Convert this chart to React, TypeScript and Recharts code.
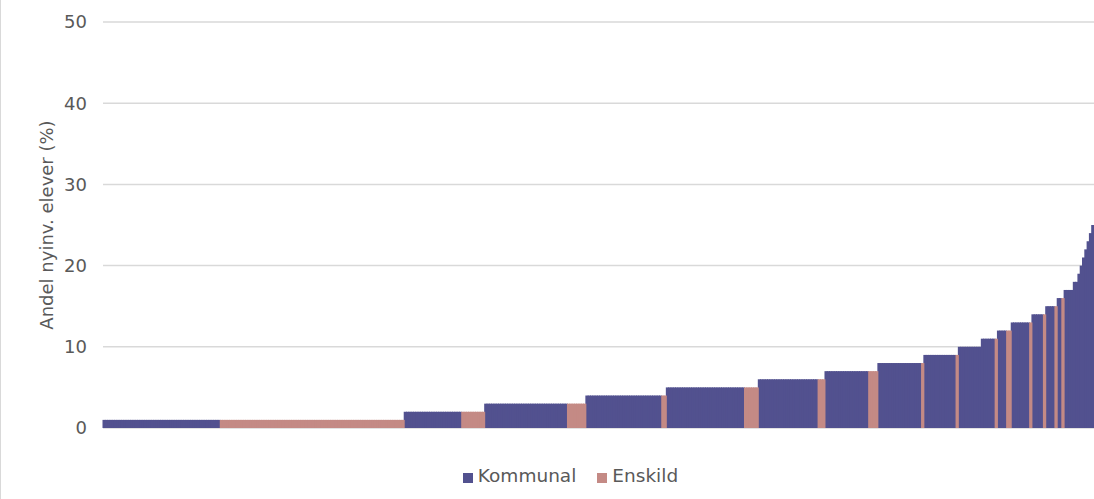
import React from 'react';
import { BarChart, Bar, XAxis, YAxis, CartesianGrid, Legend } from 'recharts';

// Schools sorted by share of newly arrived pupils, read as runs of equal value
// level = share (%), sector = K (kommunal) / E (enskild), count = number of schools in the run
const levels = [
  1, 1, 2, 2, 3, 3, 4, 4, 5, 5, 6, 6, 7, 7, 8, 8, 9, 9, 10, 11,
  11, 12, 12, 13, 13, 14, 14, 15, 15, 16, 16, 17, 18, 19, 20, 21, 22, 23, 24, 25,
];
const sectors = [
  'K', 'E', 'K', 'E', 'K', 'E', 'K', 'E', 'K', 'E', 'K', 'E', 'K', 'E', 'K', 'E', 'K', 'E', 'K', 'K',
  'E', 'K', 'E', 'K', 'E', 'K', 'E', 'K', 'E', 'K', 'E', 'K', 'K', 'K', 'K', 'K', 'K', 'K', 'K', 'K',
];
const counts = [
  51, 80, 25, 10, 36, 8, 33, 2, 34, 6, 26, 3, 19, 4, 19, 1, 14, 1, 10, 6,
  1, 4, 2, 8, 1, 5, 1, 4, 1, 2, 1, 4, 2, 1, 1, 1, 1, 1, 1, 1,
];
const yTicks = [0, 10, 20, 30, 40, 50];
const legendOrder = ['Kommunal', 'Enskild'];

const KOMMUNAL = '#52518F';
const ENSKILD = '#C48A85';
const TEXT = '#595959';
const CHART_W = 1094;
const AXIS_W = 103;

// one row per school
const data: { id: number; kommunal?: number; enskild?: number }[] = [];
levels.forEach((lvl, i) => {
  for (let n = 0; n < counts[i]; n++) {
    const row: { id: number; kommunal?: number; enskild?: number } = { id: data.length };
    if (sectors[i] === 'K') row.kommunal = lvl;
    else row.enskild = lvl;
    data.push(row);
  }
});

// recharts floors the bar width, so draw each bar across its whole band (plus a bit of overlap)
const band = (CHART_W - AXIS_W) / data.length;
const SolidBar = (props: any) => {
  const { x, y, height, fill } = props;
  if (!height || height <= 0) return <g />;
  return <rect x={x - 0.5} y={y} width={band + 1} height={height} fill={fill} />;
};

const AxisTitle = (props: any) => {
  const vb = props.viewBox || { y: 22, height: 405 };
  const cy = vb.y + vb.height / 2;
  return (
    <text
      x={46}
      y={cy}
      transform={`rotate(-90, 46, ${cy})`}
      textAnchor="middle"
      dominantBaseline="central"
      fill={TEXT}
      fontSize={18}
    >
      Andel nyinv. elever (%)
    </text>
  );
};

const App: React.FC = () => {
  return (
    <div
      style={{
        position: 'absolute',
        left: 0,
        top: 0,
        width: CHART_W,
        height: 499,
        background: '#fff',
        fontFamily: '"DejaVu Sans", Verdana, sans-serif',
      }}
    >
      <div style={{ position: 'absolute', left: 0, top: 0, width: 1, height: 499, background: '#D9D9D9' }} />
      <BarChart
        width={CHART_W}
        height={499}
        data={data}
        margin={{ top: 22, right: 0, left: 0, bottom: 50 }}
        barCategoryGap={0}
        barGap={0}
      >
        <CartesianGrid vertical={false} stroke="#D9D9D9" strokeWidth={1.5} />
        <XAxis dataKey="id" hide />
        <YAxis
          width={AXIS_W}
          domain={[0, 50]}
          ticks={yTicks}
          axisLine={false}
          tickLine={false}
          tickMargin={10}
          tick={{ fill: TEXT, fontSize: 18 }}
          label={<AxisTitle />}
        />
        <Legend
          verticalAlign="bottom"
          iconType="square"
          iconSize={10}
          wrapperStyle={{ bottom: 13, left: 34 }}
          itemSorter={(item: any) => legendOrder.indexOf(item.value)}
          formatter={(value: string) => (
            <span style={{ color: TEXT, fontSize: 18.5, marginLeft: 1, marginRight: 11 }}>{value}</span>
          )}
        />
        <Bar
          dataKey="kommunal"
          name="Kommunal"
          stackId="s"
          fill={KOMMUNAL}
          shape={<SolidBar />}
          isAnimationActive={false}
        />
        <Bar
          dataKey="enskild"
          name="Enskild"
          stackId="s"
          fill={ENSKILD}
          shape={<SolidBar />}
          isAnimationActive={false}
        />
      </BarChart>
    </div>
  );
};

export default App;
